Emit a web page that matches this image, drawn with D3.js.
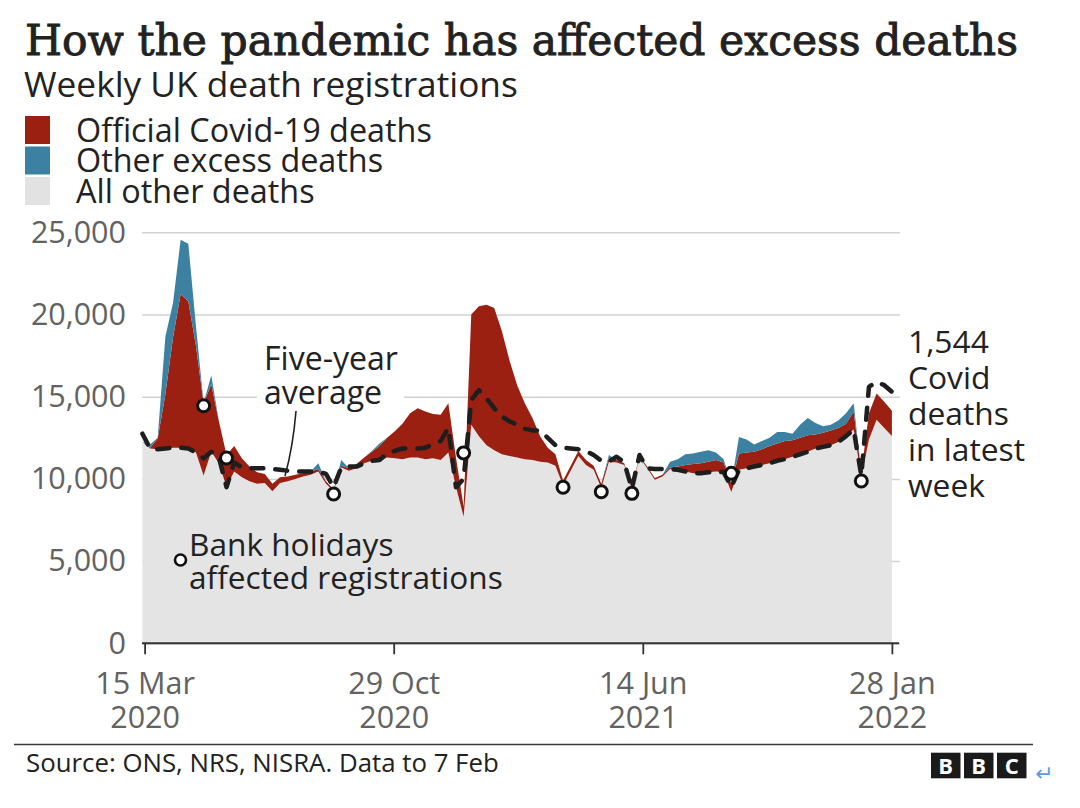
<!DOCTYPE html>
<html>
<head>
<meta charset="utf-8">
<script src="https://cdn.jsdelivr.net/npm/d3@7"></script>
<style>
  html, body { margin: 0; padding: 0; background: #fff; }
  svg { display: block; }
</style>
</head>
<body>
<svg id="chart" width="1080" height="808"></svg>
<script>
// ---------------- DATA (weekly UK death registrations, week ending from 13 Mar 2020) ----------------
const firstWeekEnding = "2020-03-13";

const allOther = [
  12250, 11850, 11800, 11850, 11900, 11900, 11850, 11600, 10200, 11650,
  10950, 9500, 10450, 10100, 9850, 9700, 9750, 9250, 9750, 9850,
  10000, 10150, 10250, 10450, 9700, 9250, 10700, 10500, 10650, 10950,
  11100, 11150, 11300, 11250, 11200, 11300, 11300, 11200, 11250, 11150,
  11600, 9500, 7700, 13300, 12600, 12050, 11750, 11500, 11400, 11300,
  11200, 11150, 11050, 11000, 10800, 9600, 10500, 11400, 10850, 10550,
  9450, 11050, 11000, 10850, 9400, 11300, 10650, 9950, 10150, 10600,
  10550, 10450, 10350, 10350, 10400, 10450, 10400, 9200, 10550, 10650,
  10750, 10850, 10950, 11100, 11200, 11350, 11500, 11650, 11850, 11950,
  12050, 12250, 12600, 13000, 10100, 12400, 13600, 13100, 12606
];

const covid = [
  0, 50, 650, 3300, 6700, 9350, 8950, 6500, 4400, 4100,
  2550, 1950, 1550, 1150, 900, 700, 550, 450, 350, 300,
  250, 200, 200, 150, 150, 100, 100, 150, 250, 350,
  550, 850, 1200, 1650, 2150, 2700, 3000, 2900, 2700, 2750,
  3000, 1800, 600, 6700, 7900, 8550, 8650, 7500, 5800, 4400,
  3400, 2550, 1550, 900, 700, 300, 300, 300, 300, 250,
  250, 200, 150, 100, 100, 100, 100, 100, 100, 100,
  200, 400, 550, 600, 650, 700, 600, 500, 1000, 950,
  900, 950, 1050, 1050, 1100, 1000, 1000, 1000, 850, 850,
  900, 850, 750, 1100, 300, 1600, 1600, 1600, 1544
];

const otherExcess = [
  0, 200, 50, 3500, 2100, 3300, 3500, 1200, 0, 550,
  0, 0, 0, 0, 0, 0, 0, 0, 0, 0,
  0, 0, 0, 350, 0, 0, 350, 0, 0, 0,
  50, 150, 0, 0, 0, 0, 0, 0, 0, 0,
  0, 0, 0, 0, 0, 0, 0, 0, 0, 0,
  0, 0, 0, 0, 0, 0, 0, 0, 0, 0,
  0, 200, 0, 0, 0, 0, 0, 0, 0, 350,
  450, 650, 650, 700, 700, 450, 200, 0, 1000, 800,
  450, 500, 500, 700, 550, 400, 800, 1050, 700, 400,
  350, 450, 650, 500, 0, 0, 0, 0, 0
];

const fiveYearAverage = [
  12750, 11850, 11800, 11850, 11900, 11900, 11850, 11600, 11250, 11650,
  11300, 9500, 11000, 10700, 10650, 10650, 10650, 10600, 10550, 10500,
  10450, 10450, 10450, 10450, 10300, 9500, 10700, 10750, 10750, 10950,
  11100, 11150, 11550, 11700, 11850, 11850, 11850, 11900, 12100, 12300,
  13100, 9500, 10000, 14800, 15400, 14900, 14300, 13800, 13500, 13300,
  13050, 12950, 12950, 12500, 12050, 11900, 11850, 11800, 11700, 11450,
  11100, 11050, 11350, 11000, 9400, 11450, 10650, 10600, 10600, 10600,
  10550, 10450, 10350, 10350, 10400, 10450, 10400, 9500, 10550, 10650,
  10750, 10850, 10950, 11100, 11200, 11350, 11500, 11650, 11850, 11950,
  12050, 12250, 12600, 13000, 10200, 15600, 15900, 15700, 15300
];

const bankHolidayDates = ["2020-05-08", "2020-05-29", "2020-09-04", "2021-01-01", "2021-04-02",
                          "2021-05-07", "2021-06-04", "2021-09-03", "2021-12-31"];
const bankHolidayMarkerValues = [14450, 11270, 9080, 11580, 9490, 9220, 9120, 10340, 9870];

const yTicks = [0, 5000, 10000, 15000, 20000, 25000];
const xTickDates = ["2020-03-15", "2020-10-29", "2021-06-14", "2022-01-28"];
const xTickLabels = [["15 Mar", "2020"], ["29 Oct", "2020"], ["14 Jun", "2021"], ["28 Jan", "2022"]];

const seriesKeys = ["allOther", "covid", "otherExcess"];
const legendLabels = ["Official Covid-19 deaths", "Other excess deaths", "All other deaths"];

// ---------------- STYLE ----------------
const COLORS = { covid: "#9b2012", otherExcess: "#3c80a2", allOther: "#e4e4e4" };
const SANS = "'Open Sans', 'Noto Sans', sans-serif";
const SERIF = "'DejaVu Serif', 'Liberation Serif', serif";
const TEXT = "#222222";
const AXIS_TEXT = "#626262";

const parse = d3.timeParse("%Y-%m-%d");
const start = parse(firstWeekEnding);
const rows = allOther.map((v, i) => ({
  date: d3.timeDay.offset(start, 7 * i),
  allOther: v,
  covid: covid[i],
  otherExcess: otherExcess[i],
  avg: fiveYearAverage[i]
}));

const svg = d3.select("#chart");

function fit(sel, width) {
  const len = sel.node().getComputedTextLength();
  const fs = parseFloat(sel.attr("font-size"));
  const nfs = fs * width / len;
  sel.attr("font-size", nfs);
  return nfs;
}

// ---------------- SCALES ----------------
const x = d3.scaleTime()
  .domain([parse(xTickDates[0]), parse(xTickDates[xTickDates.length - 1])])
  .range([144.6, 891.9]);
const y = d3.scaleLinear().domain([0, 25000]).range([643.3, 232.3]);
const gridLeft = 142, gridRight = 900;

// ---------------- TITLE / SUBTITLE / LEGEND ----------------
svg.append("text")
  .attr("x", 25).attr("y", 55)
  .attr("font-family", SERIF).attr("font-weight", 400)
  .attr("font-size", 43).attr("fill", TEXT)
  .attr("stroke", TEXT).attr("stroke-width", 0.9)
  .attr("textLength", 993).attr("lengthAdjust", "spacingAndGlyphs")
  .text("How the pandemic has affected excess deaths");

const subtitle = svg.append("text")
  .attr("x", 24).attr("y", 97)
  .attr("font-family", SANS).attr("font-size", 33).attr("fill", TEXT)
  .text("Weekly UK death registrations");
fit(subtitle, 494);

const legendOrder = ["covid", "otherExcess", "allOther"];
const legendTexts = legendOrder.map((k, i) => {
  svg.append("rect")
    .attr("x", 25).attr("y", 116 + i * 30.5)
    .attr("width", 25).attr("height", 28)
    .attr("fill", k === "allOther" ? "#e2e2e2" : COLORS[k]);
  return svg.append("text")
    .attr("x", 76).attr("y", 141.5 + i * 30.5)
    .attr("font-family", SANS).attr("font-size", 31).attr("fill", TEXT)
    .text(legendLabels[i]);
});
const lfs = fit(legendTexts[0], 356);
legendTexts.forEach(t => t.attr("font-size", lfs));

// ---------------- Y AXIS + GRID ----------------
const yAxis = d3.axisLeft(y)
  .tickValues(yTicks)
  .tickSize(-(gridRight - gridLeft))
  .tickPadding(16)
  .tickFormat(d3.format(","));
const gy = svg.append("g").attr("transform", `translate(${gridLeft},0)`).call(yAxis);
gy.select(".domain").remove();
gy.selectAll(".tick line").attr("stroke", "#d2d2d2").attr("stroke-width", 1.5);
gy.selectAll(".tick text")
  .attr("font-family", SANS).attr("font-size", 30.5).attr("fill", AXIS_TEXT);

// white box behind the "Five-year average" label (hides the gridline)
svg.append("rect").attr("x", 257).attr("y", 340).attr("width", 147).attr("height", 72).attr("fill", "#fff");

// ---------------- STACKED AREAS ----------------
const stacked = d3.stack().keys(seriesKeys)(rows);
const area = d3.area()
  .x(d => x(d.data.date))
  .y0(d => y(d[0]))
  .y1(d => y(d[1]));
svg.append("g").selectAll("path")
  .data(stacked)
  .join("path")
  .attr("fill", d => COLORS[d.key])
  .attr("d", area);

// ---------------- X AXIS ----------------
const gx = svg.append("g").attr("transform", `translate(0,${y(0)})`)
  .call(d3.axisBottom(x)
    .tickValues(xTickDates.map(parse))
    .tickSize(11)
    .tickSizeOuter(0)
    .tickFormat(() => ""));
gx.select(".domain").remove();
gx.selectAll(".tick line").attr("stroke", "#333").attr("stroke-width", 1.8);
gx.append("line").attr("x1", gridLeft).attr("x2", 899).attr("y1", 0).attr("y2", 0)
  .attr("stroke", "#333").attr("stroke-width", 2);
gx.selectAll(".tick text").remove();
gx.selectAll(".tick").each(function (d, i) {
  const t = d3.select(this).append("text")
    .attr("text-anchor", "middle")
    .attr("font-family", SANS).attr("font-size", 30.5).attr("fill", AXIS_TEXT);
  t.append("tspan").attr("x", 0).attr("y", 50.5).text(xTickLabels[i][0]);
  t.append("tspan").attr("x", 0).attr("y", 85).text(xTickLabels[i][1]);
});

// ---------------- FIVE-YEAR AVERAGE (dashed) ----------------
const line = d3.line().x(d => x(d.date)).y(d => y(d.avg));
svg.append("path")
  .datum(rows)
  .attr("fill", "none")
  .attr("stroke", "#1e1e1e")
  .attr("stroke-width", 4.5)
  .attr("stroke-linecap", "round")
  .attr("stroke-linejoin", "round")
  .attr("stroke-dasharray", "12,12")
  .attr("d", line);

// ---------------- BANK HOLIDAY MARKERS ----------------
svg.append("g").selectAll("circle")
  .data(bankHolidayDates.map((d, i) => ({ date: parse(d), v: bankHolidayMarkerValues[i] })))
  .join("circle")
  .attr("cx", d => x(d.date))
  .attr("cy", d => y(d.v))
  .attr("r", 6)
  .attr("fill", "#fff")
  .attr("stroke", "#111")
  .attr("stroke-width", 3);

// ---------------- ANNOTATIONS ----------------
const fy = svg.append("text").attr("font-family", SANS).attr("font-size", 31).attr("fill", TEXT);
const fy1 = fy.append("tspan").attr("x", 264).attr("y", 369.5).text("Five-year");
fy.append("tspan").attr("x", 264).attr("y", 403.5).text("average");
{
  const len = fy1.node().getComputedTextLength();
  fy.attr("font-size", 31 * 134 / len);
}
svg.append("path")
  .attr("d", "M296,411 Q293,447 285,476")
  .attr("fill", "none").attr("stroke", "#222").attr("stroke-width", 1.6);

svg.append("circle").attr("cx", 180.5).attr("cy", 560).attr("r", 5.5)
  .attr("fill", "#fff").attr("stroke", "#111").attr("stroke-width", 2.6);
const bh = svg.append("text").attr("font-family", SANS).attr("font-size", 31).attr("fill", TEXT);
bh.append("tspan").attr("x", 189).attr("y", 555.5).text("Bank holidays");
const bh2 = bh.append("tspan").attr("x", 189).attr("y", 588.5).text("affected registrations");
{
  const len = bh2.node().getComputedTextLength();
  bh.attr("font-size", 31 * 314 / len);
}

const latestLines = ["1,544", "Covid", "deaths", "in latest", "week"];
const la = svg.append("text").attr("font-family", SANS).attr("font-size", 31).attr("fill", TEXT);
let laRef;
latestLines.forEach((s, i) => {
  const ts = la.append("tspan").attr("x", 908).attr("y", 353 + i * 36).text(s);
  if (s === "in latest") laRef = ts;
});
{
  const len = laRef.node().getComputedTextLength();
  la.attr("font-size", 31 * 117 / len);
}

// ---------------- FOOTER ----------------
svg.append("line").attr("x1", 14).attr("x2", 1033).attr("y1", 744.5).attr("y2", 744.5)
  .attr("stroke", "#3a3a3a").attr("stroke-width", 1.6);
const src = svg.append("text").attr("x", 26).attr("y", 772)
  .attr("font-family", SANS).attr("font-size", 23).attr("fill", TEXT)
  .text("Source: ONS, NRS, NISRA. Data to 7 Feb");
fit(src, 473);

["B", "B", "C"].forEach((c, i) => {
  const bx = 931 + i * 33;
  svg.append("rect").attr("x", bx).attr("y", 752.7).attr("width", 29.5).attr("height", 25.6).attr("fill", "#1a1a1a");
  svg.append("text").attr("x", bx + 14.75).attr("y", 774)
    .attr("text-anchor", "middle").attr("font-family", SANS).attr("font-weight", 700)
    .attr("font-size", 22).attr("fill", "#fff").text(c);
});
svg.append("text").attr("x", 1035).attr("y", 781)
  .attr("font-family", "'DejaVu Sans', sans-serif").attr("font-size", 22).attr("fill", "#5b9be0")
  .text("↵");
</script>
</body>
</html>
